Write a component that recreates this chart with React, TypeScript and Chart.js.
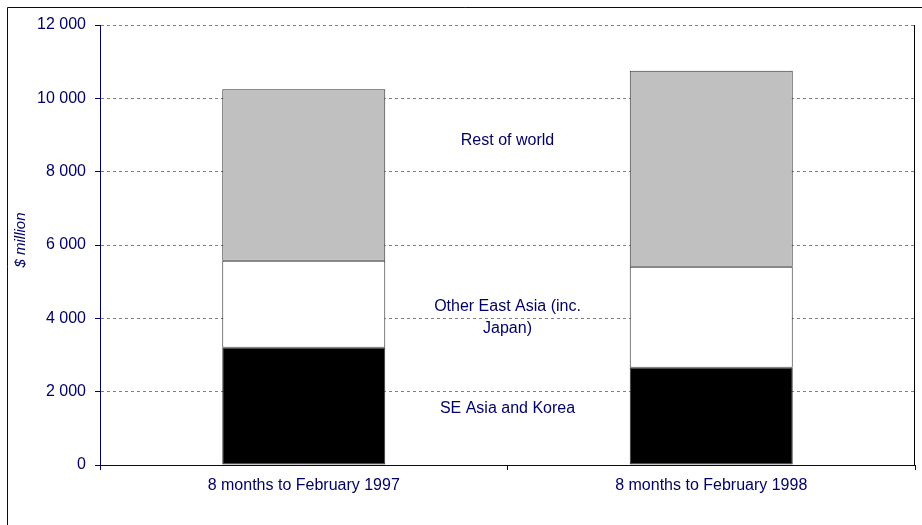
import React, { useEffect, useRef } from "react";
import { Chart, registerables } from "chart.js";

Chart.register(...registerables);

const categories = ["8 months to February 1997", "8 months to February 1998"];
const seAsiaKorea = [3200, 2650];
const otherEastAsia = [2370, 2760];
const restOfWorld = [4680, 5340];
const seriesNames = ["SE Asia and Korea", "Other East Asia (inc. Japan)", "Rest of world"];

const NAVY = "#000066";
const FONT = "'Liberation Sans', Arial, sans-serif";

const fmt = (v: number) => String(v).replace(/\B(?=(\d{3})+(?!\d))/g, " ");

const decorPlugin = {
  id: "decor",
  beforeDraw(chart: any) {
    const ctx = chart.ctx;
    ctx.save();
    ctx.fillStyle = "#ffffff";
    ctx.fillRect(0, 0, chart.width, chart.height);
    ctx.restore();
  },
  afterDraw(chart: any) {
    const ctx = chart.ctx;
    const area = chart.chartArea;
    const xs = chart.scales.x;
    const ys = chart.scales.y;
    ctx.save();
    // outer frame (top and left visible)
    ctx.strokeStyle = NAVY;
    ctx.lineWidth = 1;
    ctx.beginPath();
    ctx.moveTo(7.5, chart.height + 5);
    ctx.lineTo(7.5, 7.5);
    ctx.lineTo(chart.width + 5, 7.5);
    ctx.stroke();
    // right plot border
    ctx.strokeStyle = "#000000";
    ctx.beginPath();
    ctx.moveTo(Math.round(area.right) - 0.5, area.top);
    ctx.lineTo(Math.round(area.right) - 0.5, area.bottom);
    ctx.stroke();
    // y title
    ctx.fillStyle = NAVY;
    ctx.font = `italic 15px ${FONT}`;
    ctx.textAlign = "center";
    ctx.textBaseline = "middle";
    ctx.translate(21, 240);
    ctx.rotate(-Math.PI / 2);
    ctx.fillText("$ million", 0, 0);
    ctx.restore();

    // series labels between bars
    ctx.save();
    ctx.fillStyle = NAVY;
    ctx.font = `16px ${FONT}`;
    ctx.textAlign = "center";
    ctx.textBaseline = "middle";
    const mx = xs.getPixelForValue(0.5);
    ctx.fillText(seriesNames[2], mx, ys.getPixelForValue(8860));
    ctx.fillText("Other East Asia (inc.", mx, ys.getPixelForValue(4310));
    ctx.fillText("Japan)", mx, ys.getPixelForValue(3710));
    ctx.fillText(seriesNames[0], mx, ys.getPixelForValue(1550));
    ctx.restore();
  },
};

export default function App() {
  const ref = useRef<HTMLCanvasElement>(null);
  useEffect(() => {
    if (!ref.current) return;
    const common = {
      borderColor: "#333333",
      borderWidth: 1,
      borderSkipped: false,
      barPercentage: 0.4,
      categoryPercentage: 1,
    };
    const chart = new Chart(ref.current, {
      type: "bar",
      data: {
        labels: categories,
        datasets: [
          { label: seriesNames[0], data: seAsiaKorea, backgroundColor: "#000000", ...common },
          { label: seriesNames[1], data: otherEastAsia, backgroundColor: "#ffffff", ...common },
          { label: seriesNames[2], data: restOfWorld, backgroundColor: "#c0c0c0", ...common },
        ],
      },
      options: {
        animation: false,
        responsive: false,
        maintainAspectRatio: false,
        layout: { padding: { left: 0, top: 25, right: 7, bottom: 0 } },
        plugins: { legend: { display: false }, tooltip: { enabled: false } },
        scales: {
          x: {
            stacked: true,
            afterFit(scale: any) {
              scale.height = 60;
            },
            grid: {
              offset: true,
              drawOnChartArea: false,
              drawTicks: true,
              tickLength: 5,
              tickColor: NAVY,
            },
            border: { display: true, color: NAVY, width: 1 },
            ticks: {
              color: NAVY,
              font: { family: FONT, size: 16 },
              padding: 6,
              maxRotation: 0,
            },
          },
          y: {
            stacked: true,
            min: 0,
            max: 12000,
            afterFit(scale: any) {
              scale.width = 100;
            },
            grid: {
              color: "#808080",
              lineWidth: 1,
              drawTicks: true,
              tickLength: 5,
              tickColor: NAVY,
              tickBorderDash: [],
            },
            border: { display: true, color: NAVY, width: 1, dash: [3, 3] },
            ticks: {
              stepSize: 2000,
              color: NAVY,
              font: { family: FONT, size: 16 },
              padding: 9,
              callback: (v: any) => fmt(Number(v)),
            },
          },
        },
      },
      plugins: [decorPlugin],
    } as any);
    return () => chart.destroy();
  }, []);
  return (
    <div style={{ position: "absolute", left: 0, top: 0, width: 922, height: 525, background: "#fff" }}>
      <canvas ref={ref} width={922} height={525} style={{ display: "block" }} />
    </div>
  );
}
